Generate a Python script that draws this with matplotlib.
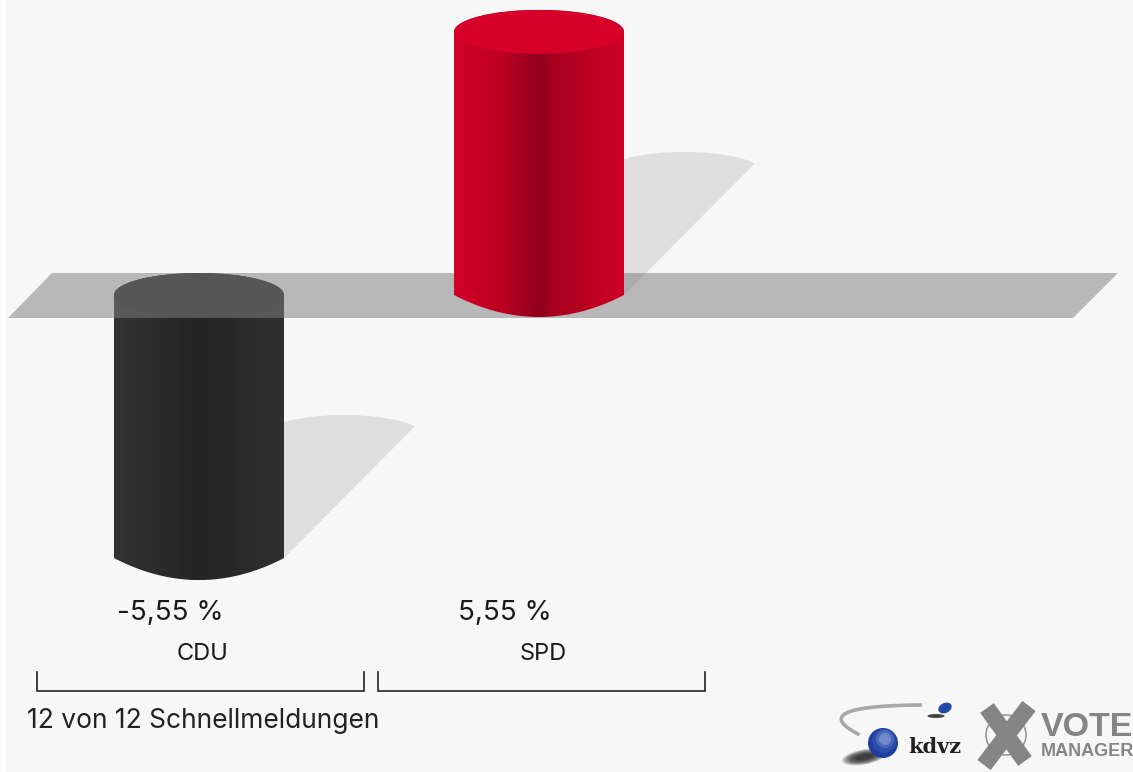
import numpy as np
import matplotlib
matplotlib.use('Agg')
import matplotlib.pyplot as plt
from matplotlib.colors import LinearSegmentedColormap
from matplotlib.patches import Circle, Ellipse, PathPatch, Polygon, Rectangle
from matplotlib.path import Path
from matplotlib.transforms import Affine2D

# data
parties = ['CDU', 'SPD']
values = [-5.55, 5.55]
value_labels = ['-5,55 %', '5,55 %']
footer = '12 von 12 Schnellmeldungen'

W, H = 1133, 772
plt.rcParams['font.family'] = ['Inter', 'Liberation Sans', 'DejaVu Sans']

# pixel layout of the value axis
x0_px, x_step_px = 199, 340
y0_px, y_per_unit = 295, 47.4
bar_width = 0.5
ry_px = 22
label_dx = [-29, -34]

red_cmap = LinearSegmentedColormap.from_list('red', [
    (0.00, '#d2002a'), (0.15, '#c80026'), (0.30, '#ba0022'), (0.42, '#a2001e'),
    (0.48, '#92001a'), (0.53, '#94001a'), (0.58, '#a8001e'), (0.80, '#bc0022'),
    (1.00, '#d00028')])
dark_cmap = LinearSegmentedColormap.from_list('dark', [
    (0.00, '#333333'), (0.50, '#242424'), (1.00, '#303030')])
bar_styles = [(dark_cmap, '#2b2b2b', 2), (red_cmap, '#d60028', 4)]

fig = plt.figure(figsize=(W / 100, H / 100), dpi=100, facecolor='white')
ax = fig.add_axes([0, 0, 1, 1])
ax.axis('off')
xlim = (-x0_px / x_step_px, (W - x0_px) / x_step_px)
ylim = ((y0_px - H) / y_per_unit, y0_px / y_per_unit)

# everything that is not a bar is placed in image pixels, y down
px = Affine2D().scale(1, -1).translate(0, H)

ax.add_patch(Rectangle((6, 0), W - 6, H, transform=px, fc='#f7f7f7', ec='none', zorder=0))

ry = ry_px / y_per_unit
t = np.linspace(0, np.pi, 60)
u = np.linspace(-1, 1, 60)

for i, v in enumerate(values):
    cmap, top_col, z = bar_styles[i]
    top, bottom = max(v, 0), min(v, 0)
    left, right = i - bar_width / 2, i + bar_width / 2

    # shadow thrown to the right of the bar
    right_px = x0_px + x_step_px * right
    base_px = y0_px - y_per_unit * bottom
    a = np.linspace(np.pi, 2 * np.pi, 80)
    sx = right_px + 60 + 78 * np.cos(a)
    sy = base_px - 123 + 20 * np.sin(a)
    keep = (sx >= right_px - 5) & (sx <= right_px + 131)
    pts = np.column_stack([sx[keep], sy[keep]])
    pts = np.vstack([pts, [[right_px, base_px]], [[right_px - 5, base_px]]])
    ax.add_patch(Polygon(pts, closed=True, transform=px, fc='#dedede', ec='none', zorder=1))

    # cylinder body, the bottom is a shallow lens with corners at the sides
    xs = np.concatenate([i + bar_width / 2 * u, i + bar_width / 2 * np.cos(t)])
    ys = np.concatenate([bottom - ry * (1 - u ** 2), top + ry * np.sin(t)])
    clip = PathPatch(Path(np.column_stack([xs, ys]), closed=False), transform=ax.transData,
                     fc='none', ec='none')
    ax.add_patch(clip)
    im = ax.imshow(np.linspace(0, 1, 256)[None, :], cmap=cmap, aspect='auto',
                   extent=(left, right, bottom - ry, top + ry), zorder=z)
    im.set_clip_path(clip)
    ax.add_patch(Ellipse((i, top), bar_width, 2 * ry, fc=top_col, ec='none', zorder=z + 0.1))

    ax.text(x0_px + x_step_px * i + label_dx[i], 613, value_labels[i], transform=px,
            fontsize=20, color='#1a1a1a', ha='center', va='center')
    ax.text(x0_px + x_step_px * i + 4, 654, parties[i], transform=px, fontsize=17,
            color='#1a1a1a', ha='center', va='center')

    # bracket below each party
    bx = 37 + 341 * i
    ax.plot([bx, bx, bx + 327, bx + 327], [672, 691, 691, 672], transform=px,
            color='#222222', lw=1.2, zorder=5, solid_joinstyle='miter')

# translucent zero plane
ax.add_patch(Polygon([(8, 318), (1073, 318), (1118, 273), (52, 273)], closed=True, transform=px,
                     fc='#7f7f7f', alpha=0.52, ec='none', zorder=3))

ax.text(27, 721, footer, transform=px, fontsize=19, color='#222222', va='center')

# kdvz logo
sw_t = np.linspace(0, 1, 40)
sw_x = (1 - sw_t) ** 2 * 920 + 2 * sw_t * (1 - sw_t) * 805 + sw_t ** 2 * 858
sw_y = (1 - sw_t) ** 2 * 705 + 2 * sw_t * (1 - sw_t) * 706 + sw_t ** 2 * 734
ax.plot(sw_x, sw_y, transform=px, color='#a8a8a8', lw=2.6, zorder=5)
for k in range(8):
    ax.add_patch(Ellipse((864, 757), 44 - 4 * k, 15 - 1.5 * k, angle=-10, transform=px,
                         fc='#222222', ec='none', alpha=0.22, zorder=5))
for r, dx, col in [(15, 0, '#1f3f9f'), (12, 1, '#2b4dab'), (9, 2, '#4a68ba'), (6, 2, '#7388c8')]:
    ax.add_patch(Circle((883 + dx, 743 - dx * 2), r, transform=px, fc=col, ec='none', zorder=6))
ax.add_patch(Ellipse((936, 716), 17, 4, transform=px, fc='#444444', ec='none', zorder=5))
ax.add_patch(Ellipse((945, 708), 14, 10, angle=-25, transform=px, fc='#2348a8', ec='none', zorder=6))
ax.text(908, 747, 'kdvz', transform=px, fontsize=15, family='DejaVu Serif', weight='bold',
        color='#222222', va='center', zorder=6)

# vote manager logo
ax.add_patch(Circle((1006, 735), 20, transform=px, fc='none', ec='#999999', lw=1.2, zorder=5))
ax.plot([987, 1025], [708, 761], transform=px, color='#858585', lw=12, zorder=6, solid_capstyle='butt')
ax.plot([1029, 984], [706, 765], transform=px, color='#858585', lw=12, zorder=6, solid_capstyle='butt')
ax.text(1041, 727, 'VOTE', transform=px, fontsize=24.5, family='Liberation Sans', weight='bold',
        color='#858585', va='center', zorder=6)
ax.text(1041, 751, 'MANAGER', transform=px, fontsize=13, family='Liberation Sans', weight='bold',
        color='#858585', va='center', zorder=6)

ax.set_xlim(xlim)
ax.set_ylim(ylim)
fig.savefig('out.png', dpi=100)
